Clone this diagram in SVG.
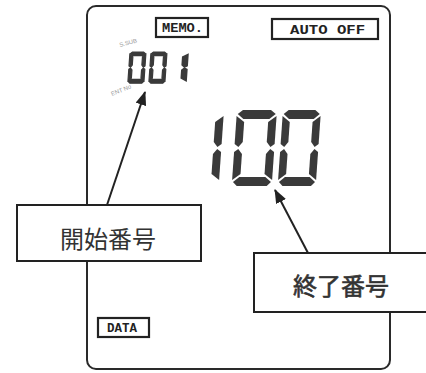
<svg xmlns="http://www.w3.org/2000/svg" xmlns:xlink="http://www.w3.org/1999/xlink" width="426" height="373" viewBox="0 0 426 373">
<style>
.frame{fill:#fff;stroke:#2a2a2a;stroke-width:2}
.tag{fill:#fff;stroke:#222;stroke-width:2.2}
.tagtxt{font-family:"Liberation Mono","DejaVu Sans Mono",monospace;font-size:12px;font-weight:bold;fill:#222}
.box{fill:#fff;stroke:#222;stroke-width:2}
.lbl{font-family:"Noto Sans CJK JP","Noto Sans",sans-serif;font-size:24px;fill:#333}
.seg{fill:#3a3a3a}
.small{stroke:#3a3a3a;stroke-width:3}
.conn{stroke:#222;stroke-width:2;fill:none}
.tiny{font-family:"Liberation Sans",sans-serif;font-size:6px;fill:#999}
</style>
<defs>
<marker id="ah" markerUnits="userSpaceOnUse" markerWidth="14" markerHeight="11" refX="13" refY="5.5" orient="auto">
<path d="M0,0 L14,5.5 L0,11 Z" fill="#222"/>
</marker>
<g id="d0" class="seg">
<path d="M6,0 H34 L39,4 L33,9 H7 L1,4 Z"/>
<path d="M0,6 L8,12 V32 L4,37 L0,34 Z"/>
<path d="M40,6 V34 L36,37 L32,32 V12 Z"/>
<path d="M0,42 L4,39 L8,44 V64 L0,70 Z"/>
<path d="M40,42 V70 L32,64 V44 L36,39 Z"/>
<path d="M1,72 L7,67 H33 L39,72 L35,76 H5 Z"/>
</g>
<g id="d1" class="seg">
<path d="M40,6 V34 L36,37 L32,32 V12 Z"/>
<path d="M40,42 V70 L32,64 V44 L36,39 Z"/>
</g>
</defs>
<g id="display">
<rect class="frame" x="87" y="6" width="303" height="363" rx="9"/>
</g>
<g id="memo">
<rect class="tag" x="156" y="18" width="52" height="19"/>
<text class="tagtxt" x="162" y="32" textLength="41" lengthAdjust="spacingAndGlyphs">MEMO.</text>
</g>
<g id="autooff">
<rect class="tag" x="272" y="19" width="106" height="20"/>
<text class="tagtxt" x="290" y="33.5" textLength="75" lengthAdjust="spacingAndGlyphs">AUTO OFF</text>
</g>
<g id="data">
<rect class="tag" x="98" y="318" width="51" height="19"/>
<text class="tagtxt" x="107" y="332" textLength="30" lengthAdjust="spacingAndGlyphs">DATA</text>
</g>
<g id="start-number">
<text class="tiny" x="120" y="47" transform="rotate(-15 120 47)">S.SUB</text>
<use class="small" xlink:href="#d0" transform="translate(130,52) skewX(-4) scale(0.4,0.41)"/>
<use class="small" xlink:href="#d0" transform="translate(151,52) skewX(-4) scale(0.4,0.41)"/>
<use class="small" xlink:href="#d1" transform="translate(164,52) skewX(-4) scale(0.6,0.41)"/>
<text class="tiny" x="112" y="96" transform="rotate(-22 112 96)">ENT No</text>
</g>
<g id="end-number">
<use xlink:href="#d1" transform="translate(184,110) skewX(-4)"/>
<use xlink:href="#d0" transform="translate(237,110) skewX(-4)"/>
<use xlink:href="#d0" transform="translate(283,110) skewX(-4) scale(0.95,1)"/>
</g>
<g id="connectors">
<line class="conn" x1="107" y1="205" x2="145" y2="92" marker-end="url(#ah)"/>
<line class="conn" x1="308" y1="253" x2="275" y2="190" marker-end="url(#ah)"/>
</g>
<g id="label-start">
<rect class="box" x="17" y="205" width="184" height="56"/>
<text class="lbl" x="108" y="237" text-anchor="middle" dominant-baseline="central">開始番号</text>
</g>
<g id="label-end">
<rect class="box" x="254" y="253" width="180" height="59"/>
<text class="lbl" x="341" y="284" text-anchor="middle" dominant-baseline="central" stroke="#333" stroke-width="0.6">終了番号</text>
</g>
</svg>
